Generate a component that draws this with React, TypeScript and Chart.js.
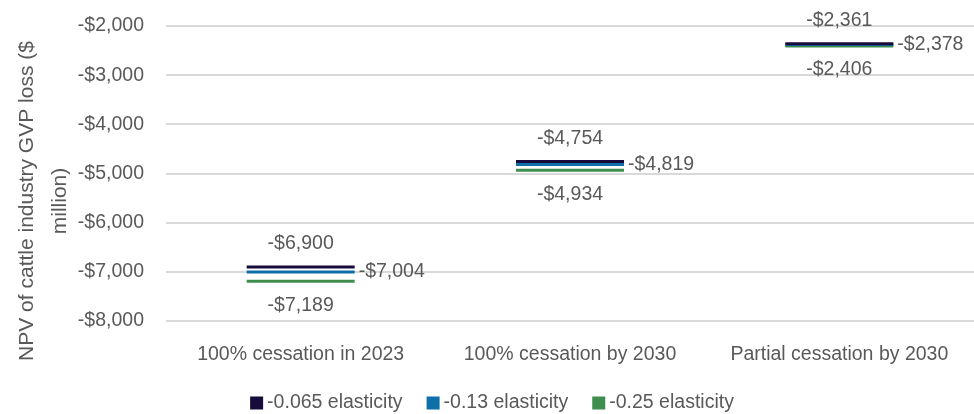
import React, { useEffect, useRef } from "react";
import { Chart, registerables } from "chart.js";

Chart.register(...registerables);

const categories = ["100% cessation in 2023", "100% cessation by 2030", "Partial cessation by 2030"];
const seriesNames = ["-0.065 elasticity", "-0.13 elasticity", "-0.25 elasticity"];
const seriesColors = ["#170b3b", "#0f6fa8", "#3f8e50"];
const elasticity065 = [-6900, -4754, -2361];
const elasticity013 = [-7004, -4819, -2378];
const elasticity025 = [-7189, -4934, -2406];
const yTicks = [-8000, -7000, -6000, -5000, -4000, -3000, -2000];
const yTitleLines = ["NPV of cattle industry GVP loss ($", "million)"];

const FONT = "'Liberation Sans', Arial, sans-serif";
const TEXT = "#595959";

const fmt = (v: number) => (v < 0 ? "-$" : "$") + Math.abs(v).toLocaleString("en-US");

const extrasPlugin = {
  id: "extras",
  afterDatasetsDraw(chart: any) {
    const ctx = chart.ctx;
    const xs = chart.scales.x;
    const ys = chart.scales.y;
    ctx.save();
    ctx.fillStyle = TEXT;
    ctx.font = `19.5px ${FONT}`;
    ctx.textBaseline = "middle";
    categories.forEach((_, i) => {
      const x = xs.getPixelForValue(i);
      ctx.textAlign = "center";
      ctx.fillText(fmt(elasticity065[i]), x, ys.getPixelForValue(elasticity065[i]) - 23);
      ctx.fillText(fmt(elasticity025[i]), x, ys.getPixelForValue(elasticity025[i]) + 24);
      ctx.textAlign = "left";
      ctx.fillText(fmt(elasticity013[i]), x + 58, ys.getPixelForValue(elasticity013[i]));
    });
    // y-axis title
    ctx.font = `21px ${FONT}`;
    ctx.textAlign = "center";
    ctx.save();
    ctx.translate(0, 201);
    ctx.rotate(-Math.PI / 2);
    ctx.fillText(yTitleLines[0], 0, 27);
    ctx.fillText(yTitleLines[1], 0, 60);
    ctx.restore();
    // legend
    ctx.font = `19.5px ${FONT}`;
    const box = 13;
    const gap = 4;
    const spacing = 24;
    const widths = seriesNames.map((n) => box + gap + ctx.measureText(n).width);
    const total = widths.reduce((a, b) => a + b, 0) + spacing * (widths.length - 1);
    let lx = 492 - total / 2;
    const ly = 403;
    ctx.textAlign = "left";
    seriesNames.forEach((n, i) => {
      ctx.fillStyle = seriesColors[i];
      ctx.fillRect(lx, ly - box / 2, box, box);
      ctx.fillStyle = TEXT;
      ctx.fillText(n, lx + box + gap, ly);
      lx += widths[i] + spacing;
    });
    ctx.restore();
  },
};

export default function App() {
  const ref = useRef<HTMLCanvasElement | null>(null);
  useEffect(() => {
    if (!ref.current) return;
    const mk = (label: string, data: number[], color: string) => ({
      label,
      data,
      showLine: false,
      pointStyle: "line",
      pointRadius: 54,
      pointHoverRadius: 54,
      pointBorderWidth: 3,
      pointBorderColor: color,
      pointBackgroundColor: color,
      borderColor: color,
      backgroundColor: color,
      clip: false,
    });
    const chart = new Chart(ref.current, {
      type: "line",
      data: {
        labels: categories,
        datasets: [
          mk(seriesNames[0], elasticity065, seriesColors[0]),
          mk(seriesNames[1], elasticity013, seriesColors[1]),
          mk(seriesNames[2], elasticity025, seriesColors[2]),
        ],
      },
      options: {
        animation: false,
        responsive: false,
        layout: { autoPadding: false, padding: { top: 26, bottom: 0, left: 0, right: 0 } },
        plugins: { legend: { display: false }, tooltip: { enabled: false } },
        scales: {
          x: {
            offset: true,
            grid: { display: false },
            border: { display: false },
            ticks: { color: TEXT, font: { size: 19.5, family: FONT }, padding: 14, maxRotation: 0 },
            afterFit: (s: any) => {
              s.height = 93;
              s.paddingLeft = 0;
              s.paddingRight = 0;
            },
          },
          y: {
            min: -8000,
            max: -2000,
            afterBuildTicks: (s: any) => {
              s.ticks = yTicks.map((v) => ({ value: v }));
            },
            grid: { color: "#d9d9d9", lineWidth: 2, drawTicks: false },
            border: { display: false },
            ticks: {
              color: TEXT,
              font: { size: 19.5, family: FONT },
              padding: 22,
              callback: (v: any) => fmt(Number(v)),
            },
            afterFit: (s: any) => {
              s.width = 166;
              s.paddingTop = 0;
              s.paddingBottom = 0;
            },
          },
        },
      },
      plugins: [extrasPlugin],
    } as any);
    return () => chart.destroy();
  }, []);
  return (
    <div style={{ position: "fixed", left: 0, top: 0, width: 974, height: 414, background: "#fff" }}>
      <canvas ref={ref} width={974} height={414} />
    </div>
  );
}
